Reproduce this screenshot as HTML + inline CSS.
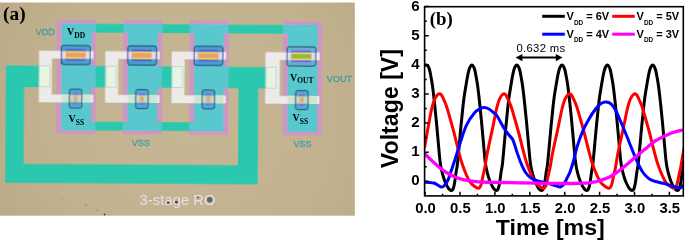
<!DOCTYPE html>
<html><head><meta charset="utf-8"><title>3-stage RO</title>
<style>html,body{margin:0;padding:0;background:#fff}svg{display:block}</style></head>
<body><svg width="685" height="240" viewBox="0 0 685 240">
<rect width="685" height="240" fill="#fff"/>
<radialGradient id="bg" gradientUnits="userSpaceOnUse" cx="190" cy="115" r="230"><stop offset="0" stop-color="#c6b693"/><stop offset="0.6" stop-color="#c3b28f"/><stop offset="1" stop-color="#baa986"/></radialGradient>
<rect x="0" y="2.5" width="354.8" height="213.2" fill="url(#bg)"/>
<clipPath id="ph"><rect x="0" y="2.5" width="354.8" height="213.2"/></clipPath>
<filter id="bl" x="-5%" y="-5%" width="110%" height="110%"><feGaussianBlur stdDeviation="0.45"/></filter>
<filter id="bt" x="-10%" y="-30%" width="120%" height="160%"><feGaussianBlur stdDeviation="0.3"/></filter>
<g clip-path="url(#ph)"><g transform="rotate(0.35)" filter="url(#bl)">
<defs><g id="metal">
<rect x="62.2" y="23.3" width="29.2" height="106.5"/>
<rect x="128.5" y="23.3" width="29.2" height="106.5"/>
<rect x="194.9" y="23.3" width="29.2" height="106.5"/>
<rect x="288.4" y="23.3" width="29.2" height="106.5"/>
<rect x="62.2" y="23.3" width="231.2" height="8.7"/>
<rect x="62.2" y="121.2" width="137.7" height="8.6"/>
<rect x="90.4" y="65.5" width="26" height="21.2"/>
<rect x="156.7" y="65.5" width="26" height="21.2"/>
<rect x="223.1" y="65.5" width="55" height="21.2"/>
<path d="M6.3 65.5H50V86.9H24.6V163.7H239V66H258.8V182.7H6.3Z"/>
</g>
<clipPath id="pk"><rect x="57.1" y="19.4" width="39.1" height="114.0"/><rect x="123.4" y="19.4" width="39.1" height="114.0"/><rect x="189.8" y="19.4" width="39.1" height="114.0"/><rect x="283.3" y="19.4" width="39.1" height="114.0"/></clipPath>
</defs>
<rect x="57.1" y="19.4" width="39.1" height="114.0" fill="#cd96c4"/>
<rect x="123.4" y="19.4" width="39.1" height="114.0" fill="#cd96c4"/>
<rect x="189.8" y="19.4" width="39.1" height="114.0" fill="#cd96c4"/>
<rect x="283.3" y="19.4" width="39.1" height="114.0" fill="#cd96c4"/>
<use href="#metal" fill="#2bc8af"/>
<g clip-path="url(#pk)"><use href="#metal" fill="#58c8ce"/></g>
<path d="M39.4 50.5H93.8V58.3H52.3V94.2H93.8V101.9H39.4Z" fill="#edeaea"/>
<rect x="62.2" y="94.2" width="29.2" height="7.7" fill="#cfe4d8"/>
<path d="M62.2 94.6h29.2M62.2 101.5h29.2" stroke="#e6e6a8" stroke-width="1"/>
<rect x="39.8" y="65.6" width="10.6" height="21.2" fill="#e6f4e0" stroke="#9aa0c8" stroke-width="0.4"/>
<rect x="61.7" y="45" width="28.8" height="19.2" rx="2.2" fill="#4aa0cc" stroke="#1c2f6e" stroke-width="0.9"/>
<rect x="62.3" y="50.9" width="27.6" height="7.4" fill="#ead8ea"/>
<rect x="66.1" y="48.7" width="19.6" height="11.6" fill="#5b4fe0"/>
<rect x="66.1" y="50.6" width="19.6" height="7.8" fill="#e6de5e"/>
<rect x="66.1" y="52.2" width="19.6" height="4.6" fill="#e8a262"/>
<rect x="70.0" y="88.7" width="12.5" height="19" rx="2" fill="#52a8cc" stroke="#1c2f6e" stroke-width="0.9"/>
<rect x="70.6" y="94.4" width="11.3" height="7.3" fill="#c6d8c8"/>
<rect x="73.2" y="92.6" width="6" height="1.6" fill="#7a6ae0"/>
<rect x="73.2" y="102.3" width="6" height="1.6" fill="#7a6ae0"/>
<rect x="74.2" y="95.4" width="4" height="5.4" fill="#d8b070"/>
<path d="M105.7 50.5H160.1V58.3H118.6V94.2H160.1V101.9H105.7Z" fill="#edeaea"/>
<rect x="128.5" y="94.2" width="29.2" height="7.7" fill="#cfe4d8"/>
<path d="M128.5 94.6h29.2M128.5 101.5h29.2" stroke="#e6e6a8" stroke-width="1"/>
<rect x="106.1" y="65.6" width="10.6" height="21.2" fill="#e6f4e0" stroke="#9aa0c8" stroke-width="0.4"/>
<rect x="128.0" y="45" width="28.8" height="19.2" rx="2.2" fill="#4aa0cc" stroke="#1c2f6e" stroke-width="0.9"/>
<rect x="128.6" y="50.9" width="27.6" height="7.4" fill="#ead8ea"/>
<rect x="132.4" y="48.7" width="19.6" height="11.6" fill="#5b4fe0"/>
<rect x="132.4" y="50.6" width="19.6" height="7.8" fill="#e6de5e"/>
<rect x="132.4" y="52.2" width="19.6" height="4.6" fill="#e8a262"/>
<rect x="136.3" y="88.7" width="12.5" height="19" rx="2" fill="#52a8cc" stroke="#1c2f6e" stroke-width="0.9"/>
<rect x="136.9" y="94.4" width="11.3" height="7.3" fill="#c6d8c8"/>
<rect x="139.5" y="92.6" width="6" height="1.6" fill="#7a6ae0"/>
<rect x="139.5" y="102.3" width="6" height="1.6" fill="#7a6ae0"/>
<rect x="140.5" y="95.4" width="4" height="5.4" fill="#d8b070"/>
<path d="M172.1 50.5H226.5V58.3H185.0V94.2H226.5V101.9H172.1Z" fill="#edeaea"/>
<rect x="194.9" y="94.2" width="29.2" height="7.7" fill="#cfe4d8"/>
<path d="M194.9 94.6h29.2M194.9 101.5h29.2" stroke="#e6e6a8" stroke-width="1"/>
<rect x="172.5" y="65.6" width="10.6" height="21.2" fill="#e6f4e0" stroke="#9aa0c8" stroke-width="0.4"/>
<rect x="194.4" y="45" width="28.8" height="19.2" rx="2.2" fill="#4aa0cc" stroke="#1c2f6e" stroke-width="0.9"/>
<rect x="195.0" y="50.9" width="27.6" height="7.4" fill="#ead8ea"/>
<rect x="198.8" y="48.7" width="19.6" height="11.6" fill="#5b4fe0"/>
<rect x="198.8" y="50.6" width="19.6" height="7.8" fill="#e6de5e"/>
<rect x="198.8" y="52.2" width="19.6" height="4.6" fill="#e8a262"/>
<rect x="202.7" y="88.7" width="12.5" height="19" rx="2" fill="#52a8cc" stroke="#1c2f6e" stroke-width="0.9"/>
<rect x="203.3" y="94.4" width="11.3" height="7.3" fill="#c6d8c8"/>
<rect x="205.9" y="92.6" width="6" height="1.6" fill="#7a6ae0"/>
<rect x="205.9" y="102.3" width="6" height="1.6" fill="#7a6ae0"/>
<rect x="206.9" y="95.4" width="4" height="5.4" fill="#d8b070"/>
<path d="M265.8 50.5H320.0V58.3H280.2V94.2H320.0V101.9H265.8Z" fill="#edeaea"/>
<rect x="288.4" y="94.2" width="29.2" height="7.7" fill="#cfe4d8"/>
<path d="M288.4 94.6h29.2M288.4 101.5h29.2" stroke="#e6e6a8" stroke-width="1"/>
<rect x="266.2" y="65.6" width="10.6" height="21.2" fill="#e6f4e0" stroke="#9aa0c8" stroke-width="0.4"/>
<rect x="287.3" y="45" width="28.8" height="19.2" rx="2.2" fill="#62b4cc" stroke="#1c2f6e" stroke-width="0.9"/>
<rect x="287.9" y="50.9" width="27.6" height="7.4" fill="#ead8ea"/>
<rect x="291.7" y="48.7" width="19.6" height="11.6" fill="#9048f0"/>
<rect x="291.7" y="50.6" width="19.6" height="7.8" fill="#dce27c"/>
<rect x="291.7" y="52.2" width="19.6" height="4.6" fill="#96bc2c"/>
<rect x="296.2" y="88.7" width="12.5" height="19" rx="2" fill="#52a8cc" stroke="#1c2f6e" stroke-width="0.9"/>
<rect x="296.8" y="94.4" width="11.3" height="7.3" fill="#c6d8c8"/>
<rect x="299.4" y="92.6" width="6" height="1.6" fill="#7a6ae0"/>
<rect x="299.4" y="102.3" width="6" height="1.6" fill="#7a6ae0"/>
<rect x="300.4" y="95.4" width="4" height="5.4" fill="#d8b070"/>
</g>
<text x="3.0" y="19.6" font-family="'Liberation Serif','Times New Roman',serif" font-weight="700" font-size="18px" textLength="22.6" lengthAdjust="spacingAndGlyphs">(a)</text>
<text x="67" y="35.3" font-family="'Liberation Serif','Times New Roman',serif" font-weight="700" font-size="10px">V<tspan font-size="7.5px" dy="2.6">DD</tspan></text>
<text x="68.5" y="122.4" font-family="'Liberation Serif','Times New Roman',serif" font-weight="700" font-size="10px">V<tspan font-size="7.5px" dy="2.6">SS</tspan></text>
<text x="290" y="80.6" font-family="'Liberation Serif','Times New Roman',serif" font-weight="700" font-size="10px">V<tspan font-size="7.5px" dy="2.6">OUT</tspan></text>
<text x="292.6" y="121.3" font-family="'Liberation Serif','Times New Roman',serif" font-weight="700" font-size="10px">V<tspan font-size="7.5px" dy="2.6">SS</tspan></text>
<g filter="url(#bt)" stroke-width="0.3">
<text x="35.6" y="34.8" font-family="'Liberation Sans',Arial,sans-serif" font-size="9.1px" fill="#3f9da2" stroke="#3f9da2">VDD</text>
<text x="131.8" y="146.2" font-family="'Liberation Sans',Arial,sans-serif" font-size="9.1px" fill="#3f9da2" stroke="#3f9da2">VSS</text>
<text x="293.4" y="147" font-family="'Liberation Sans',Arial,sans-serif" font-size="9.1px" fill="#3f9da2" stroke="#3f9da2">VSS</text>
<text x="326.8" y="81.6" font-family="'Liberation Sans',Arial,sans-serif" font-size="9.1px" fill="#3f9da2" stroke="#3f9da2">VOUT</text>
<text x="139.6" y="205.1" font-family="'Liberation Sans',Arial,sans-serif" font-size="14.6px" fill="#e9dde9" textLength="75.8" lengthAdjust="spacing">3-stage RO</text>
</g>
<circle cx="168.2" cy="202.8" r="1.3" fill="#4a4a60"/>
<circle cx="176.4" cy="202.2" r="1.4" fill="#3c4450"/>
<circle cx="209.7" cy="199.8" r="2.7" fill="#5c6864"/>
<circle cx="197.9" cy="197.4" r="0.9" fill="#5a5a6a"/>
<circle cx="104.6" cy="214.5" r="0.9" fill="#3a3a55"/>
<circle cx="97.0" cy="210.0" r="0.6" fill="#55506a"/>
<circle cx="122.0" cy="168.0" r="0.5" fill="#3a9c90"/>
<circle cx="40.0" cy="168.0" r="0.5" fill="#25a090"/>
<circle cx="14.0" cy="110.0" r="0.5" fill="#25a090"/>
<circle cx="44.0" cy="40.0" r="0.5" fill="#8a7c66"/>
<circle cx="62.0" cy="63.0" r="0.7" fill="#3a3a50"/>
<circle cx="35.5" cy="84.0" r="0.6" fill="#2a8a80"/>
<circle cx="151.0" cy="40.0" r="0.5" fill="#8a7c66"/>
<circle cx="300.0" cy="195.0" r="0.6" fill="#9a8aa0"/>
<circle cx="215.0" cy="205.0" r="0.6" fill="#9a8aa0"/>
<circle cx="62.0" cy="199.0" r="0.6" fill="#8a80a0"/>
<circle cx="86.0" cy="205.0" r="0.7" fill="#70688a"/>
</g>
<clipPath id="pc"><rect x="424.6" y="6.7" width="258.7" height="189.2"/></clipPath>
<g clip-path="url(#pc)" fill="none" stroke-linejoin="round" stroke-linecap="round">
<path d="M424.60 65.30 C424.93 65.25 426.02 64.85 426.60 65.00 C427.18 65.15 427.60 65.37 428.10 66.20 C428.60 67.03 429.10 68.12 429.60 70.00 C430.10 71.88 430.63 74.95 431.10 77.50 C431.57 80.05 431.98 82.38 432.40 85.30 C432.82 88.22 433.23 91.88 433.60 95.00 C433.97 98.12 434.32 101.33 434.60 104.00 C434.88 106.67 434.97 107.67 435.30 111.00 C435.63 114.33 436.22 120.00 436.60 124.00 C436.98 128.00 437.27 131.33 437.60 135.00 C437.93 138.67 438.22 141.83 438.60 146.00 C438.98 150.17 439.48 156.33 439.90 160.00 C440.32 163.67 440.52 165.17 441.10 168.00 C441.68 170.83 442.65 174.50 443.40 177.00 C444.15 179.50 444.73 181.08 445.60 183.00 C446.47 184.92 447.68 187.25 448.60 188.50 C449.52 189.75 450.35 190.42 451.10 190.50 C451.85 190.58 452.52 190.25 453.10 189.00 C453.68 187.75 454.10 185.83 454.60 183.00 C455.10 180.17 455.65 175.00 456.10 172.00 C456.55 169.00 456.88 168.33 457.30 165.00 C457.72 161.67 458.05 157.83 458.60 152.00 C459.15 146.17 459.93 137.00 460.60 130.00 C461.27 123.00 462.02 115.50 462.60 110.00 C463.18 104.50 463.53 101.12 464.10 97.00 C464.67 92.88 465.42 88.80 466.00 85.30 C466.58 81.80 467.08 78.63 467.60 76.00 C468.12 73.37 468.60 71.17 469.10 69.50 C469.60 67.83 470.15 66.75 470.60 66.00 C471.05 65.25 471.35 64.97 471.80 65.00 C472.25 65.03 472.79 65.37 473.29 66.20 C473.79 67.03 474.28 68.12 474.78 70.00 C475.28 71.88 475.81 74.95 476.27 77.50 C476.73 80.05 477.15 82.38 477.56 85.30 C477.98 88.22 478.39 91.88 478.75 95.00 C479.12 98.12 479.47 101.33 479.75 104.00 C480.03 106.67 480.11 107.67 480.44 111.00 C480.77 114.33 481.35 120.00 481.73 124.00 C482.11 128.00 482.40 131.33 482.73 135.00 C483.06 138.67 483.34 141.83 483.72 146.00 C484.10 150.17 484.60 156.33 485.01 160.00 C485.43 163.67 485.62 165.17 486.20 168.00 C486.78 170.83 487.74 174.50 488.49 177.00 C489.23 179.50 489.81 181.08 490.67 183.00 C491.53 184.92 492.74 187.25 493.65 188.50 C494.56 189.75 495.39 190.42 496.14 190.50 C496.88 190.58 497.54 190.25 498.12 189.00 C498.70 187.75 499.12 185.83 499.61 183.00 C500.11 180.17 500.66 175.00 501.10 172.00 C501.55 169.00 501.88 168.33 502.30 165.00 C502.71 161.67 503.04 157.83 503.59 152.00 C504.13 146.17 504.91 137.00 505.57 130.00 C506.24 123.00 506.98 115.50 507.56 110.00 C508.14 104.50 508.49 101.12 509.05 97.00 C509.61 92.88 510.36 88.80 510.94 85.30 C511.52 81.80 512.01 78.63 512.53 76.00 C513.04 73.37 513.52 71.17 514.02 69.50 C514.51 67.83 515.06 66.75 515.51 66.00 C515.95 65.25 516.25 64.97 516.70 65.00 C517.15 65.03 517.70 65.37 518.20 66.20 C518.70 67.03 519.20 68.12 519.70 70.00 C520.20 71.88 520.73 74.95 521.20 77.50 C521.67 80.05 522.08 82.38 522.50 85.30 C522.92 88.22 523.33 91.88 523.70 95.00 C524.07 98.12 524.42 101.33 524.70 104.00 C524.98 106.67 525.07 107.67 525.40 111.00 C525.73 114.33 526.32 120.00 526.70 124.00 C527.08 128.00 527.37 131.33 527.70 135.00 C528.03 138.67 528.32 141.83 528.70 146.00 C529.08 150.17 529.58 156.33 530.00 160.00 C530.42 163.67 530.62 165.17 531.20 168.00 C531.78 170.83 532.75 174.50 533.50 177.00 C534.25 179.50 534.83 181.08 535.70 183.00 C536.57 184.92 537.78 187.25 538.70 188.50 C539.62 189.75 540.45 190.42 541.20 190.50 C541.95 190.58 542.62 190.25 543.20 189.00 C543.78 187.75 544.20 185.83 544.70 183.00 C545.20 180.17 545.75 175.00 546.20 172.00 C546.65 169.00 546.98 168.33 547.40 165.00 C547.82 161.67 548.15 157.83 548.70 152.00 C549.25 146.17 550.03 137.00 550.70 130.00 C551.37 123.00 552.12 115.50 552.70 110.00 C553.28 104.50 553.63 101.12 554.20 97.00 C554.77 92.88 555.52 88.80 556.10 85.30 C556.68 81.80 557.18 78.63 557.70 76.00 C558.22 73.37 558.70 71.17 559.20 69.50 C559.70 67.83 560.25 66.75 560.70 66.00 C561.15 65.25 561.45 64.97 561.90 65.00 C562.35 65.03 562.90 65.37 563.41 66.20 C563.91 67.03 564.41 68.12 564.91 70.00 C565.42 71.88 565.95 74.95 566.42 77.50 C566.89 80.05 567.31 82.38 567.73 85.30 C568.14 88.22 568.56 91.88 568.93 95.00 C569.30 98.12 569.65 101.33 569.94 104.00 C570.22 106.67 570.30 107.67 570.64 111.00 C570.97 114.33 571.56 120.00 571.94 124.00 C572.33 128.00 572.61 131.33 572.95 135.00 C573.28 138.67 573.57 141.83 573.95 146.00 C574.34 150.17 574.84 156.33 575.26 160.00 C575.68 163.67 575.88 165.17 576.46 168.00 C577.05 170.83 578.02 174.50 578.77 177.00 C579.53 179.50 580.11 181.08 580.98 183.00 C581.85 184.92 583.08 187.25 584.00 188.50 C584.92 189.75 585.76 190.42 586.51 190.50 C587.26 190.58 587.93 190.25 588.52 189.00 C589.10 187.75 589.52 185.83 590.02 183.00 C590.53 180.17 591.08 175.00 591.53 172.00 C591.98 169.00 592.32 168.33 592.74 165.00 C593.15 161.67 593.49 157.83 594.04 152.00 C594.59 146.17 595.38 137.00 596.05 130.00 C596.72 123.00 597.47 115.50 598.06 110.00 C598.65 104.50 599.00 101.12 599.57 97.00 C600.14 92.88 600.89 88.80 601.47 85.30 C602.06 81.80 602.56 78.63 603.08 76.00 C603.60 73.37 604.09 71.17 604.59 69.50 C605.09 67.83 605.64 66.75 606.09 66.00 C606.55 65.25 606.85 64.97 607.30 65.00 C607.75 65.03 608.30 65.37 608.80 66.20 C609.30 67.03 609.81 68.12 610.31 70.00 C610.81 71.88 611.34 74.95 611.81 77.50 C612.28 80.05 612.70 82.38 613.11 85.30 C613.53 88.22 613.95 91.88 614.32 95.00 C614.68 98.12 615.03 101.33 615.32 104.00 C615.60 106.67 615.69 107.67 616.02 111.00 C616.35 114.33 616.94 120.00 617.32 124.00 C617.71 128.00 617.99 131.33 618.32 135.00 C618.66 138.67 618.94 141.83 619.33 146.00 C619.71 150.17 620.21 156.33 620.63 160.00 C621.05 163.67 621.25 165.17 621.83 168.00 C622.42 170.83 623.39 174.50 624.14 177.00 C624.89 179.50 625.47 181.08 626.34 183.00 C627.21 184.92 628.43 187.25 629.35 188.50 C630.27 189.75 631.10 190.42 631.85 190.50 C632.61 190.58 633.27 190.25 633.86 189.00 C634.44 187.75 634.86 185.83 635.36 183.00 C635.86 180.17 636.41 175.00 636.87 172.00 C637.32 169.00 637.65 168.33 638.07 165.00 C638.49 161.67 638.82 157.83 639.37 152.00 C639.92 146.17 640.71 137.00 641.38 130.00 C642.04 123.00 642.80 115.50 643.38 110.00 C643.96 104.50 644.32 101.12 644.88 97.00 C645.45 92.88 646.20 88.80 646.79 85.30 C647.37 81.80 647.87 78.63 648.39 76.00 C648.91 73.37 649.39 71.17 649.89 69.50 C650.40 67.83 650.95 66.75 651.40 66.00 C651.85 65.25 652.15 64.97 652.60 65.00 C653.05 65.03 653.60 65.37 654.10 66.20 C654.60 67.03 655.11 68.12 655.61 70.00 C656.11 71.88 656.64 74.95 657.11 77.50 C657.58 80.05 658.00 82.38 658.41 85.30 C658.83 88.22 659.25 91.88 659.62 95.00 C659.98 98.12 660.33 101.33 660.62 104.00 C660.90 106.67 660.99 107.67 661.32 111.00 C661.65 114.33 662.24 120.00 662.62 124.00 C663.01 128.00 663.29 131.33 663.62 135.00 C663.96 138.67 664.24 141.83 664.63 146.00 C665.01 150.17 665.51 156.33 665.93 160.00 C666.35 163.67 666.55 165.17 667.13 168.00 C667.72 170.83 668.69 174.50 669.44 177.00 C670.19 179.50 670.77 181.08 671.64 183.00 C672.51 184.92 673.73 187.25 674.65 188.50 C675.57 189.75 676.40 190.42 677.15 190.50 C677.91 190.58 678.57 190.25 679.16 189.00 C679.74 187.75 680.16 185.83 680.66 183.00 C681.16 180.17 681.71 175.00 682.17 172.00 C682.62 169.00 682.95 168.33 683.37 165.00 C683.79 161.67 684.12 157.83 684.67 152.00 C685.22 146.17 686.01 137.00 686.68 130.00 C687.34 123.00 688.35 113.33 688.68 110.00" stroke="#000" stroke-width="3"/>
<path d="M424.70 147.00 C425.00 145.25 425.88 140.00 426.50 136.50 C427.12 133.00 427.78 129.42 428.40 126.00 C429.02 122.58 429.60 119.08 430.20 116.00 C430.80 112.92 431.37 110.00 432.00 107.50 C432.63 105.00 433.33 102.78 434.00 101.00 C434.67 99.22 435.33 97.90 436.00 96.80 C436.67 95.70 437.42 94.92 438.00 94.40 C438.58 93.88 438.92 93.60 439.50 93.70 C440.08 93.80 440.82 94.12 441.48 95.00 C442.13 95.88 442.63 97.17 443.45 99.00 C444.27 100.83 445.43 103.17 446.41 106.00 C447.40 108.83 448.14 111.67 449.38 116.00 C450.61 120.33 452.51 127.00 453.82 132.00 C455.14 137.00 456.04 141.17 457.28 146.00 C458.51 150.83 459.91 156.67 461.23 161.00 C462.55 165.33 463.78 168.58 465.18 172.00 C466.58 175.42 468.14 179.17 469.63 181.50 C471.11 183.83 472.59 184.87 474.07 186.00 C475.55 187.13 477.36 188.47 478.52 188.30 C479.67 188.13 480.24 187.05 480.98 185.00 C481.73 182.95 482.30 179.00 482.96 176.00 C483.62 173.00 484.28 170.50 484.94 167.00 C485.59 163.50 486.17 159.00 486.91 155.00 C487.65 151.00 488.39 147.67 489.38 143.00 C490.37 138.33 491.69 132.50 492.84 127.00 C493.99 121.50 495.31 114.33 496.29 110.00 C497.28 105.67 497.94 103.33 498.76 101.00 C499.59 98.67 500.38 97.22 501.23 96.00 C502.09 94.78 503.12 93.87 503.90 93.70 C504.68 93.53 505.24 94.12 505.91 95.00 C506.58 95.88 507.09 97.17 507.92 99.00 C508.76 100.83 509.94 103.17 510.94 106.00 C511.95 108.83 512.70 111.67 513.96 116.00 C515.22 120.33 517.15 127.00 518.49 132.00 C519.83 137.00 520.75 141.17 522.01 146.00 C523.27 150.83 524.69 156.67 526.03 161.00 C527.38 165.33 528.63 168.58 530.06 172.00 C531.48 175.42 533.08 179.17 534.59 181.50 C536.10 183.83 537.61 184.87 539.11 186.00 C540.62 187.13 542.47 188.47 543.64 188.30 C544.82 188.13 545.40 187.05 546.16 185.00 C546.91 182.95 547.50 179.00 548.17 176.00 C548.84 173.00 549.51 170.50 550.18 167.00 C550.85 163.50 551.44 159.00 552.19 155.00 C552.95 151.00 553.70 147.67 554.71 143.00 C555.72 138.33 557.06 132.50 558.23 127.00 C559.41 121.50 560.75 114.33 561.75 110.00 C562.76 105.67 563.43 103.33 564.27 101.00 C565.11 98.67 565.91 97.22 566.78 96.00 C567.66 94.78 568.71 93.87 569.50 93.70 C570.29 93.53 570.84 94.12 571.50 95.00 C572.17 95.88 572.67 97.17 573.51 99.00 C574.34 100.83 575.51 103.17 576.51 106.00 C577.51 108.83 578.26 111.67 579.52 116.00 C580.77 120.33 582.69 127.00 584.02 132.00 C585.36 137.00 586.28 141.17 587.53 146.00 C588.78 150.83 590.20 156.67 591.53 161.00 C592.87 165.33 594.12 168.58 595.54 172.00 C596.96 175.42 598.54 179.17 600.05 181.50 C601.55 183.83 603.05 184.87 604.55 186.00 C606.06 187.13 607.89 188.47 609.06 188.30 C610.23 188.13 610.81 187.05 611.56 185.00 C612.32 182.95 612.90 179.00 613.57 176.00 C614.24 173.00 614.90 170.50 615.57 167.00 C616.24 163.50 616.82 159.00 617.57 155.00 C618.32 151.00 619.08 147.67 620.08 143.00 C621.08 138.33 622.41 132.50 623.58 127.00 C624.75 121.50 626.09 114.33 627.09 110.00 C628.09 105.67 628.76 103.33 629.59 101.00 C630.43 98.67 631.23 97.22 632.10 96.00 C632.96 94.78 634.02 93.87 634.80 93.70 C635.58 93.53 636.13 94.12 636.80 95.00 C637.47 95.88 637.97 97.17 638.80 99.00 C639.63 100.83 640.80 103.17 641.80 106.00 C642.80 108.83 643.55 111.67 644.80 116.00 C646.05 120.33 647.97 127.00 649.30 132.00 C650.63 137.00 651.55 141.17 652.80 146.00 C654.05 150.83 655.47 156.67 656.80 161.00 C658.13 165.33 659.38 168.58 660.80 172.00 C662.22 175.42 663.80 179.17 665.30 181.50 C666.80 183.83 668.30 184.87 669.80 186.00 C671.30 187.13 673.13 188.47 674.30 188.30 C675.47 188.13 676.05 187.05 676.80 185.00 C677.55 182.95 678.13 179.00 678.80 176.00 C679.47 173.00 680.13 170.50 680.80 167.00 C681.47 163.50 682.05 159.00 682.80 155.00 C683.55 151.00 684.30 147.67 685.30 143.00 C686.30 138.33 688.22 129.67 688.80 127.00" stroke="#f00" stroke-width="3"/>
<path d="M424.70 182.30 C425.58 182.35 428.45 182.48 430.00 182.60 C431.55 182.72 432.67 182.55 434.00 183.00 C435.33 183.45 436.83 184.63 438.00 185.30 C439.17 185.97 440.00 186.88 441.00 187.00 C442.00 187.12 442.83 187.17 444.00 186.00 C445.17 184.83 446.75 182.67 448.00 180.00 C449.25 177.33 450.33 173.42 451.50 170.00 C452.67 166.58 453.45 164.33 455.00 159.50 C456.55 154.67 458.87 146.78 460.80 141.00 C462.73 135.22 464.27 129.55 466.60 124.80 C468.93 120.05 472.57 115.17 474.80 112.50 C477.03 109.83 478.45 109.63 480.00 108.80 C481.55 107.97 482.60 107.47 484.10 107.50 C485.60 107.53 487.35 108.08 489.00 109.00 C490.65 109.92 492.67 111.87 494.00 113.00 C495.33 114.13 495.28 113.17 497.00 115.80 C498.72 118.43 502.30 125.60 504.30 128.80 C506.30 132.00 507.53 133.07 509.00 135.00 C510.47 136.93 511.78 137.57 513.10 140.40 C514.42 143.23 515.55 148.12 516.90 152.00 C518.25 155.88 519.75 160.28 521.20 163.70 C522.65 167.12 523.90 170.07 525.60 172.50 C527.30 174.93 529.22 176.85 531.40 178.30 C533.58 179.75 535.83 180.33 538.70 181.20 C541.57 182.07 545.88 182.78 548.60 183.50 C551.32 184.22 553.05 184.92 555.00 185.50 C556.95 186.08 558.80 187.25 560.30 187.00 C561.80 186.75 562.83 185.57 564.00 184.00 C565.17 182.43 566.30 179.60 567.30 177.60 C568.30 175.60 568.97 174.77 570.00 172.00 C571.03 169.23 572.33 165.17 573.50 161.00 C574.67 156.83 575.45 152.00 577.00 147.00 C578.55 142.00 580.80 135.67 582.80 131.00 C584.80 126.33 586.87 122.67 589.00 119.00 C591.13 115.33 593.60 111.58 595.60 109.00 C597.60 106.42 599.25 104.67 601.00 103.50 C602.75 102.33 604.43 101.95 606.10 102.00 C607.77 102.05 609.43 102.47 611.00 103.80 C612.57 105.13 614.00 107.30 615.50 110.00 C617.00 112.70 618.50 116.58 620.00 120.00 C621.50 123.42 623.08 127.08 624.50 130.50 C625.92 133.92 627.17 137.17 628.50 140.50 C629.83 143.83 631.25 147.42 632.50 150.50 C633.75 153.58 634.83 156.33 636.00 159.00 C637.17 161.67 638.33 164.25 639.50 166.50 C640.67 168.75 641.75 170.75 643.00 172.50 C644.25 174.25 645.67 175.78 647.00 177.00 C648.33 178.22 649.58 179.05 651.00 179.80 C652.42 180.55 653.93 181.02 655.50 181.50 C657.07 181.98 658.65 182.27 660.40 182.70 C662.15 183.13 664.27 183.60 666.00 184.10 C667.73 184.60 669.30 185.22 670.80 185.70 C672.30 186.18 673.60 186.62 675.00 187.00 C676.40 187.38 678.12 187.95 679.20 188.00 C680.28 188.05 680.77 187.70 681.50 187.30 C682.23 186.90 683.25 185.88 683.60 185.60" stroke="#00f" stroke-width="3"/>
<path d="M424.70 153.60 C425.42 154.33 427.45 156.48 429.00 158.00 C430.55 159.52 432.42 161.25 434.00 162.70 C435.58 164.15 436.95 165.42 438.50 166.70 C440.05 167.98 441.55 169.18 443.30 170.40 C445.05 171.62 447.05 172.92 449.00 174.00 C450.95 175.08 453.08 176.08 455.00 176.90 C456.92 177.72 458.57 178.32 460.50 178.90 C462.43 179.48 463.63 179.92 466.60 180.40 C469.57 180.88 474.40 181.48 478.30 181.80 C482.20 182.12 486.38 182.18 490.00 182.30 C493.62 182.42 495.00 182.42 500.00 182.50 C505.00 182.58 512.50 182.67 520.00 182.80 C527.50 182.93 536.67 183.18 545.00 183.30 C553.33 183.42 563.88 183.52 570.00 183.50 C576.12 183.48 578.53 183.32 581.70 183.20 C584.87 183.08 587.07 182.97 589.00 182.80 C590.93 182.63 591.63 182.50 593.30 182.20 C594.97 181.90 597.05 181.57 599.00 181.00 C600.95 180.43 603.00 179.60 605.00 178.80 C607.00 178.00 609.07 177.23 611.00 176.20 C612.93 175.17 614.77 173.90 616.60 172.60 C618.43 171.30 620.05 169.97 622.00 168.40 C623.95 166.83 626.07 165.08 628.30 163.20 C630.53 161.32 633.45 158.77 635.40 157.10 C637.35 155.43 638.43 154.50 640.00 153.20 C641.57 151.90 643.25 150.58 644.80 149.30 C646.35 148.02 647.60 146.88 649.30 145.50 C651.00 144.12 652.78 142.42 655.00 141.00 C657.22 139.58 660.43 138.08 662.60 137.00 C664.77 135.92 666.40 135.20 668.00 134.50 C669.60 133.80 670.53 133.35 672.20 132.80 C673.87 132.25 676.10 131.67 678.00 131.20 C679.90 130.73 682.67 130.20 683.60 130.00" stroke="#f0f" stroke-width="3.3"/>
</g>
<path d="M425.10 195.90v-4.2 M442.55 195.90v-2.2 M460.00 195.90v-4.2 M477.45 195.90v-2.2 M494.90 195.90v-4.2 M512.35 195.90v-2.2 M529.80 195.90v-4.2 M547.25 195.90v-2.2 M564.70 195.90v-4.2 M582.15 195.90v-2.2 M599.60 195.90v-4.2 M617.05 195.90v-2.2 M634.50 195.90v-4.2 M651.95 195.90v-2.2 M669.40 195.90v-4.2 M424.60 181.30h4.2 M424.60 166.74h2.2 M424.60 152.18h4.2 M424.60 137.62h2.2 M424.60 123.06h4.2 M424.60 108.50h2.2 M424.60 93.94h4.2 M424.60 79.38h2.2 M424.60 64.82h4.2 M424.60 50.26h2.2 M424.60 35.70h4.2 M424.60 21.14h2.2 M424.60 6.58h4.2" stroke="#000" stroke-width="1.5" fill="none"/>
<rect x="424.60" y="6.70" width="258.70" height="189.20" fill="none" stroke="#000" stroke-width="1.6"/>
<g font-family="'Liberation Sans',Arial,sans-serif" font-weight="700" font-size="13.6px" fill="#000">
<text transform="translate(419.7 185.30) scale(1.05 1)" text-anchor="end" font-size="14.4px">0</text>
<text transform="translate(419.7 156.18) scale(1.05 1)" text-anchor="end" font-size="14.4px">1</text>
<text transform="translate(419.7 127.06) scale(1.05 1)" text-anchor="end" font-size="14.4px">2</text>
<text transform="translate(419.7 97.94) scale(1.05 1)" text-anchor="end" font-size="14.4px">3</text>
<text transform="translate(419.7 68.82) scale(1.05 1)" text-anchor="end" font-size="14.4px">4</text>
<text transform="translate(419.7 39.70) scale(1.05 1)" text-anchor="end" font-size="14.4px">5</text>
<text transform="translate(419.7 10.58) scale(1.05 1)" text-anchor="end" font-size="14.4px">6</text>
<text transform="translate(425.50 213) scale(1.06 1)" text-anchor="middle" font-size="14px">0.0</text>
<text transform="translate(460.40 213) scale(1.06 1)" text-anchor="middle" font-size="14px">0.5</text>
<text transform="translate(495.30 213) scale(1.06 1)" text-anchor="middle" font-size="14px">1.0</text>
<text transform="translate(530.20 213) scale(1.06 1)" text-anchor="middle" font-size="14px">1.5</text>
<text transform="translate(565.10 213) scale(1.06 1)" text-anchor="middle" font-size="14px">2.0</text>
<text transform="translate(600.00 213) scale(1.06 1)" text-anchor="middle" font-size="14px">2.5</text>
<text transform="translate(634.90 213) scale(1.06 1)" text-anchor="middle" font-size="14px">3.0</text>
<text transform="translate(669.80 213) scale(1.06 1)" text-anchor="middle" font-size="14px">3.5</text>
</g>
<text x="495.8" y="235.3" font-family="'Liberation Sans',Arial,sans-serif" font-weight="700" font-size="22px" textLength="109" lengthAdjust="spacingAndGlyphs">Time [ms]</text>
<text transform="translate(398.1 168.2) rotate(-90)" textLength="119.2" lengthAdjust="spacingAndGlyphs" font-family="'Liberation Sans',Arial,sans-serif" font-weight="700" font-size="23px">Voltage [V]</text>
<text x="429.8" y="24.5" font-family="'Liberation Serif','Times New Roman',serif" font-weight="700" font-size="18px" textLength="23" lengthAdjust="spacingAndGlyphs">(b)</text>
<path d="M542.2 16.3h22.6" stroke="#000" stroke-width="3" stroke-linecap="butt"/><text x="566.6" y="19.9" font-family="'Liberation Sans',Arial,sans-serif" font-weight="700" font-size="11px">V<tspan font-size="6.4px" dy="4.6">DD</tspan><tspan dy="-4.6"> = 6V</tspan></text>
<path d="M612.2 16.3h22.6" stroke="#f00" stroke-width="3" stroke-linecap="butt"/><text x="636.6" y="19.9" font-family="'Liberation Sans',Arial,sans-serif" font-weight="700" font-size="11px">V<tspan font-size="6.4px" dy="4.6">DD</tspan><tspan dy="-4.6"> = 5V</tspan></text>
<path d="M542.2 34.2h22.6" stroke="#00f" stroke-width="3" stroke-linecap="butt"/><text x="566.6" y="37.8" font-family="'Liberation Sans',Arial,sans-serif" font-weight="700" font-size="11px">V<tspan font-size="6.4px" dy="4.6">DD</tspan><tspan dy="-4.6"> = 4V</tspan></text>
<path d="M612.2 34.2h22.6" stroke="#f0f" stroke-width="3" stroke-linecap="butt"/><text x="636.6" y="37.8" font-family="'Liberation Sans',Arial,sans-serif" font-weight="700" font-size="11px">V<tspan font-size="6.4px" dy="4.6">DD</tspan><tspan dy="-4.6"> = 3V</tspan></text>
<text x="516.4" y="51.8" font-family="'Liberation Sans',Arial,sans-serif" font-size="11.3px" textLength="48.8" lengthAdjust="spacing">0.632 ms</text>
<path d="M520 57.6H558" stroke="#000" stroke-width="2"/>
<path d="M515.6 57.6l6.8 -3.6v7.2zM562.6 57.6l-6.8 -3.6v7.2z" fill="#000"/>
</svg></body></html>
